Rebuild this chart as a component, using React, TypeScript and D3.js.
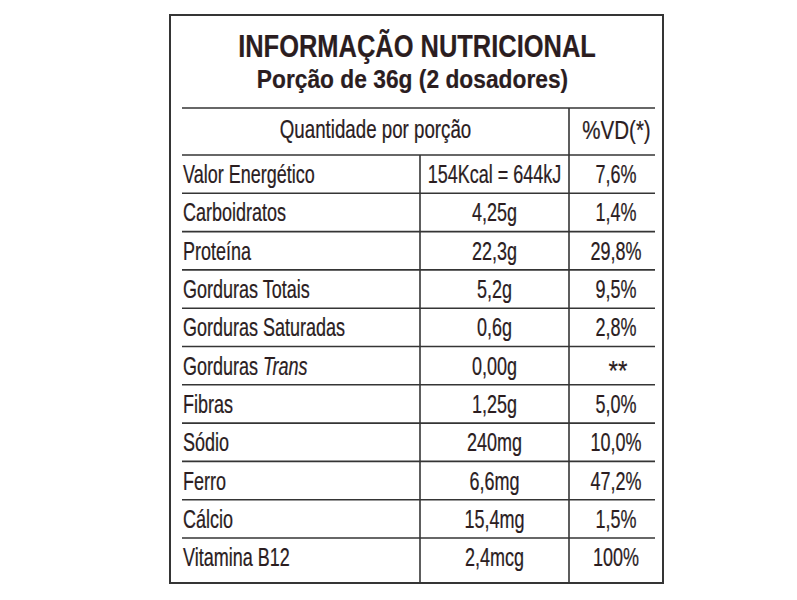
import React from "react";
import * as d3 from "d3";

const title = "INFORMAÇÃO NUTRICIONAL";
const subtitle = "Porção de 36g (2 dosadores)";
const headerLeft = "Quantidade por porção";
const headerRight = "%VD(*)";
const nutrients = [
  "Valor Energético",
  "Carboidratos",
  "Proteína",
  "Gorduras Totais",
  "Gorduras Saturadas",
  "Gorduras Trans",
  "Fibras",
  "Sódio",
  "Ferro",
  "Cálcio",
  "Vitamina B12",
];
const amounts = [
  "154Kcal = 644kJ",
  "4,25g",
  "22,3g",
  "5,2g",
  "0,6g",
  "0,00g",
  "1,25g",
  "240mg",
  "6,6mg",
  "15,4mg",
  "2,4mcg",
];
const vdValues = [
  "7,6%",
  "1,4%",
  "29,8%",
  "9,5%",
  "2,8%",
  "**",
  "5,0%",
  "10,0%",
  "47,2%",
  "1,5%",
  "100%",
];

const W = 797;
const H = 600;
const TEXT = "#2b1d1f";
const LINE = "#353535";
const FONT = "'Liberation Sans', Arial, sans-serif";

const box = { x0: 170, y0: 15, x1: 663, y1: 583 };
const inner = { x0: 182, x1: 655 };
const headerTop = 108;
const rowsTop = 155;
const rowH = 38.3;
const colMid = 420;
const colVD = 569;

function SText({
  x,
  y,
  sx,
  size,
  weight,
  anchor,
  children,
}: {
  x: number;
  y: number;
  sx: number;
  size: number;
  weight?: string;
  anchor: string;
  children: React.ReactNode;
}) {
  return (
    <g transform={`translate(${x},${y}) scale(${sx},1)`}>
      <text
        x={0}
        y={0}
        fontFamily={FONT}
        fontSize={size}
        fontWeight={weight || "normal"}
        textAnchor={anchor}
        fill={TEXT}
        stroke={TEXT}
        strokeWidth={weight === "bold" ? 0.2 : 0.25}
      >
        {children}
      </text>
    </g>
  );
}

export default function App() {
  const idx = nutrients.map((_, i) => i);
  const y = d3
    .scaleBand<number>()
    .domain(idx)
    .range([rowsTop, rowsTop + rowH * nutrients.length])
    .padding(0);
  const bw = y.bandwidth();
  const midCenter = (colMid + colVD) / 2;
  const vdCenter = 616;
  const sx = 0.72;

  return (
    <svg
      width={W}
      height={H}
      style={{ position: "absolute", left: 0, top: 0, background: "#fff" }}
    >
      <rect x={0} y={0} width={W} height={H} fill="#fff" />
      <rect
        x={box.x0}
        y={box.y0}
        width={box.x1 - box.x0}
        height={box.y1 - box.y0}
        fill="none"
        stroke={LINE}
        strokeWidth={2}
      />
      <SText x={417} y={57} sx={0.835} size={30.5} weight="bold" anchor="middle">
        {title}
      </SText>
      <SText x={412.5} y={88} sx={0.86} size={26.5} weight="bold" anchor="middle">
        {subtitle}
      </SText>

      <line x1={inner.x0} x2={inner.x1} y1={headerTop} y2={headerTop} stroke={LINE} strokeWidth={1.6} />
      <line x1={colVD} x2={colVD} y1={headerTop} y2={box.y1} stroke={LINE} strokeWidth={1.6} />
      <line x1={colMid} x2={colMid} y1={rowsTop} y2={box.y1} stroke={LINE} strokeWidth={1.6} />

      <SText x={(inner.x0 + colVD) / 2} y={138} sx={sx} size={26} anchor="middle">
        {headerLeft}
      </SText>
      <SText x={616.5} y={139} sx={0.79} size={26} anchor="middle">
        {headerRight}
      </SText>

      {idx.map((i) => (
        <line
          key={"l" + i}
          x1={inner.x0}
          x2={inner.x1}
          y1={y(i)!}
          y2={y(i)!}
          stroke={LINE}
          strokeWidth={1.6}
        />
      ))}

      {idx.map((i) => {
        const base = y(i)! + bw / 2 + 9;
        const name = nutrients[i];
        const isTrans = name.endsWith(" Trans");
        const vd = vdValues[i];
        const isStar = vd === "**";
        return (
          <g key={"r" + i}>
            <SText x={inner.x0 + 1} y={base} sx={sx} size={25} anchor="start">
              {isTrans ? (
                <>
                  {name.replace(" Trans", " ")}
                  <tspan fontStyle="italic">Trans</tspan>
                </>
              ) : (
                name
              )}
            </SText>
            <SText x={midCenter} y={base} sx={sx} size={25} anchor="middle">
              {amounts[i]}
            </SText>
            <SText
              x={isStar ? 618 : vdCenter}
              y={isStar ? base + 5 : base}
              sx={isStar ? 0.9 : sx}
              size={isStar ? 27 : 25}
              anchor="middle"
            >
              {vd}
            </SText>
          </g>
        );
      })}
    </svg>
  );
}
